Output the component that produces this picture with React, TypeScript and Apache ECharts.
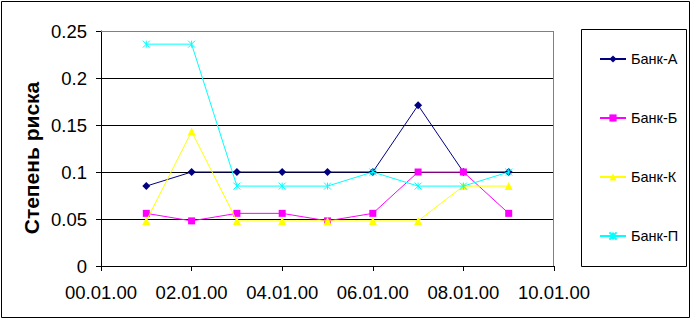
import React, { useEffect, useRef } from "react";
import * as echarts from "echarts";

const days = [1, 2, 3, 4, 5, 6, 7, 8, 9];
const bankA = [0.085, 0.1, 0.1, 0.1, 0.1, 0.1, 0.171, 0.1, 0.1];
const bankB = [0.056, 0.048, 0.056, 0.056, 0.048, 0.056, 0.1, 0.1, 0.056];
const bankK = [0.048, 0.143, 0.048, 0.048, 0.048, 0.048, 0.048, 0.085, 0.085];
const bankP = [0.236, 0.236, 0.085, 0.085, 0.085, 0.1, 0.085, 0.085, 0.1];
const seriesNames = ["Банк-А", "Банк-Б", "Банк-К", "Банк-П"];
const yTicks = [0, 0.05, 0.1, 0.15, 0.2, 0.25];
const yTitle = "Степень риска";

const FONT = "'Liberation Sans', Arial, sans-serif";

function fmtDay(v: number): string {
  const d = Math.round(v);
  return (d < 10 ? "0" + d : String(d)) + ".01.00";
}

export default function App() {
  const ref = useRef<HTMLDivElement>(null);
  useEffect(() => {
    if (!ref.current) return;
    const chart = echarts.init(ref.current, null, { renderer: "svg" });
    const pair = (arr: number[]) => days.map((d, i) => [d, arr[i]]);
    const cols = ["#000080", "#FF00FF", "#FFFF00", "#00FFFF"];
    const datas = [bankA, bankB, bankK, bankP];
    const symbols = [
      "diamond",
      "rect",
      "triangle",
      "path://M0,0L8,8M8,0L0,8M4,0L4,8",
    ];
    const sizes = [8, 7, 8, 7];
    chart.setOption({
      animation: false,
      backgroundColor: "#ffffff",
      grid: { left: 101, top: 31, width: 453, height: 235 },
      xAxis: {
        type: "value",
        min: 0,
        max: 10,
        interval: 2,
        axisLine: { show: true, lineStyle: { color: "#000", width: 1 } },
        axisTick: { show: true, length: 5, lineStyle: { color: "#000" } },
        splitLine: { show: false },
        axisLabel: {
          formatter: (v: number) => fmtDay(v),
          color: "#000",
          fontSize: 18.5,
          fontFamily: FONT,
          margin: 17,
        },
      },
      yAxis: {
        type: "value",
        min: 0,
        max: 0.25,
        interval: 0.05,
        axisLine: { show: true, onZero: false, lineStyle: { color: "#000", width: 1 } },
        axisTick: { show: true, length: 5, lineStyle: { color: "#000" } },
        splitLine: { show: true, lineStyle: { color: "#000", width: 1 } },
        axisLabel: {
          formatter: (v: number) => {
            const t = yTicks.find((x) => Math.abs(x - v) < 1e-9);
            return String(t !== undefined ? t : v);
          },
          color: "#000",
          fontSize: 18.5,
          fontFamily: FONT,
          margin: 14,
        },
      },
      legend: {
        orient: "vertical",
        left: 599,
        top: 51,
        itemWidth: 26,
        itemHeight: 9,
        itemGap: 43,
        padding: 0,
        textStyle: { fontSize: 14.5, fontFamily: FONT, color: "#000", lineHeight: 16 },
        data: seriesNames,
      },
      graphic: [
        {
          type: "rect",
          shape: { x: 1.5, y: 1.5, width: 688, height: 316 },
          style: { fill: "none", stroke: "#000", lineWidth: 1 },
          z: 0,
          silent: true,
        },
        {
          type: "line",
          shape: { x1: 101, y1: 31.5, x2: 554, y2: 31.5 },
          style: { stroke: "#808080", lineWidth: 1 },
          z: 1,
        },
        {
          type: "line",
          shape: { x1: 553.5, y1: 31, x2: 553.5, y2: 266 },
          style: { stroke: "#808080", lineWidth: 1 },
          z: 1,
        },
        {
          type: "rect",
          shape: { x: 581.5, y: 29.5, width: 105, height: 237 },
          style: { fill: "none", stroke: "#000", lineWidth: 1 },
          z: 1,
        },
        {
          type: "text",
          x: 31,
          y: 158,
          rotation: Math.PI / 2,
          style: {
            text: yTitle,
            fontSize: 21,
            fontWeight: "bold",
            fontFamily: FONT,
            fill: "#000",
            align: "center",
            verticalAlign: "middle",
          },
        },
      ],
      series: seriesNames.map((name, i) => ({
        name,
        type: "line",
        data: pair(datas[i]),
        symbol: symbols[i],
        symbolSize: sizes[i],
        showSymbol: true,
        lineStyle: { color: cols[i], width: 1 },
        itemStyle:
          i === 3
            ? { color: "rgba(0,0,0,0)", borderColor: cols[i], borderWidth: 1 }
            : { color: cols[i], borderWidth: 0 },
        z: 3 + i,
      })),
    });
    return () => chart.dispose();
  }, []);
  return (
    <div
      ref={ref}
      style={{ position: "fixed", left: 0, top: 0, width: 695, height: 324, background: "#fff" }}
    />
  );
}
